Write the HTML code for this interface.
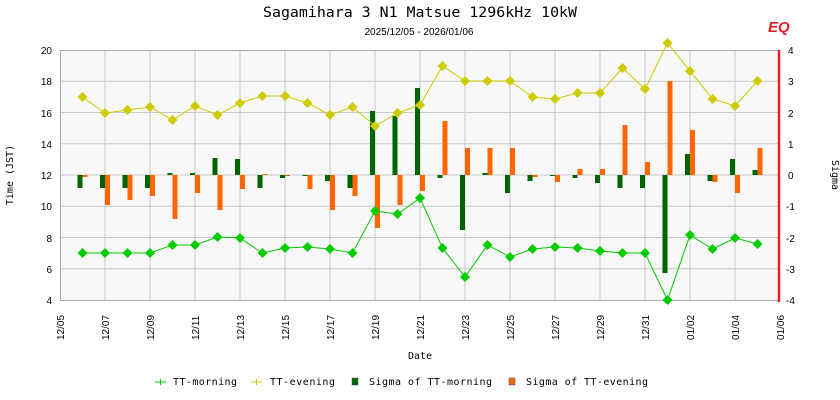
<!DOCTYPE html>
<html><head><meta charset="utf-8"><style>
body{margin:0;background:#fff;}
svg{display:block;font-family:"DejaVu Sans Mono","Liberation Mono",monospace;}
</style></head><body>
<svg id="s" width="840" height="400" xmlns="http://www.w3.org/2000/svg">
<rect x="60" y="50" width="720" height="250" fill="#f8f8f8"/>
<g id="grid" stroke="#c8c8c8" stroke-width="1"></g>
<rect x="60.5" y="50.5" width="719" height="250" fill="none" stroke="#aaa"/>
<g id="bars"></g>
<g id="lines"></g>
<line x1="779" y1="50" x2="779" y2="302" stroke="#e8202a" stroke-width="2.5"/>
<text x="420" y="17" font-size="14" text-anchor="middle" fill="#000" textLength="314" lengthAdjust="spacingAndGlyphs">Sagamihara 3 N1 Matsue 1296kHz 10kW</text>
<text x="419" y="35" font-size="10" font-family="Liberation Sans, sans-serif" text-anchor="middle" fill="#000">2025/12/05 - 2026/01/06</text>
<text x="768" y="32" font-size="15" font-weight="bold" font-style="italic" fill="#e8202a" font-family="Liberation Sans, sans-serif">EQ</text>
<g font-size="10" fill="#000" font-family="Liberation Sans, sans-serif" text-anchor="end">
<text x="52" y="54">20</text><text x="52" y="85">18</text><text x="52" y="117">16</text><text x="52" y="148">14</text><text x="52" y="179">12</text><text x="52" y="210">10</text><text x="52" y="242">8</text><text x="52" y="273">6</text><text x="52" y="304">4</text>
</g>
<g font-size="10" fill="#000" font-family="Liberation Sans, sans-serif">
<text x="788" y="54">4</text><text x="788" y="85">3</text><text x="788" y="117">2</text><text x="788" y="148">1</text><text x="788" y="179">0</text><text x="786" y="210">-1</text><text x="786" y="242">-2</text><text x="786" y="273">-3</text><text x="786" y="304">-4</text>
</g>
<g id="xl" font-size="10" fill="#000" font-family="Liberation Sans, sans-serif"></g>
<text x="13" y="175" font-size="10" transform="rotate(-90 13 175)" text-anchor="middle">Time (JST)</text>
<text x="832" y="175" font-size="10" transform="rotate(90 832 175)" text-anchor="middle">Sigma</text>
<text x="420" y="359" font-size="10" text-anchor="middle">Date</text>
<g font-size="10" fill="#000">
<line x1="155" y1="382" x2="166" y2="382" stroke="#00cc00"/><line x1="160.5" y1="379" x2="160.5" y2="385" stroke="#00cc00"/>
<text x="173" y="385" textLength="64">TT-morning</text>
<line x1="251" y1="382" x2="262" y2="382" stroke="#cccc00"/><line x1="256.5" y1="379" x2="256.5" y2="385" stroke="#cccc00"/>
<text x="270" y="385" textLength="65">TT-evening</text>
<rect x="352" y="378" width="6" height="7" fill="#006400" stroke="#555" stroke-width=".5"/>
<text x="369" y="385" textLength="123">Sigma of TT-morning</text>
<rect x="509" y="378" width="6" height="7" fill="#ff6600" stroke="#555" stroke-width=".5"/>
<text x="526" y="385" textLength="122">Sigma of TT-evening</text>
</g>
</svg>
<script>
var ns="http://www.w3.org/2000/svg";
function el(p,t,a){var e=document.createElementNS(ns,t);for(var k in a)e.setAttribute(k,a[k]);document.getElementById(p).appendChild(e);return e;}
for(var i=1;i<8;i++){var y=50+i*31.25;el("grid","line",{x1:60,x2:780,y1:y,y2:y});}
for(var i=1;i<16;i++){var x=60+i*45;el("grid","line",{x1:x,x2:x,y1:50,y2:300});}
var lbl=["12/05","12/07","12/09","12/11","12/13","12/15","12/17","12/19","12/21","12/23","12/25","12/27","12/29","12/31","01/02","01/04","01/06"];
for(var i=0;i<17;i++){var x=60+i*45+4;var t=el("xl","text",{x:x,y:340,transform:"rotate(-90 "+x+" 340)"});t.textContent=lbl[i];}
var ev=[97,113,110,107,120,106,115,103,96,96,103,115,107,126,113,105,66,81,81,81,97,99,93,93,68,89,43,71,99,106,81];
var mo=[253,253,253,253,245,245,237,238,253,248,247,249,253,211,214,198,248,277,245,257,249,247,248,251,253,253,300,235,249,238,244];
var sm=[188,188,188,188,173,173,158,159,188,178,176,181,188,111,116,88,178,230,173,193,181,176,178,183,188,188,273,154,181,159,170];
var se=[177,205,200,196,219,193,210,189,174,176,189,210,196,228,205,191,121,148,148,148,177,182,169,169,125,162,81,130,182,193,148];
for(var i=0;i<31;i++){var x=60+22.5*(i+1);
 var a=sm[i];el("bars","rect",{x:x-5,y:Math.min(a,175),width:5,height:Math.max(1,Math.abs(a-175)),fill:"#006400"});
 var b=se[i];el("bars","rect",{x:x,y:Math.min(b,175),width:5,height:Math.max(1,Math.abs(b-175)),fill:"#ff6600"});}
function line(d,c){var p=[];for(var i=0;i<31;i++)p.push((60+22.5*(i+1))+","+d[i]);
 el("lines","polyline",{points:p.join(" "),fill:"none",stroke:c,"stroke-width":1});
 for(var i=0;i<31;i++){var x=60+22.5*(i+1),y=d[i];el("lines","polygon",{points:x+","+(y-5)+" "+(x+5)+","+y+" "+x+","+(y+5)+" "+(x-5)+","+y,fill:c});}}
line(ev,"#cccc00");line(mo,"#00cc00");
</script>
</body></html>
